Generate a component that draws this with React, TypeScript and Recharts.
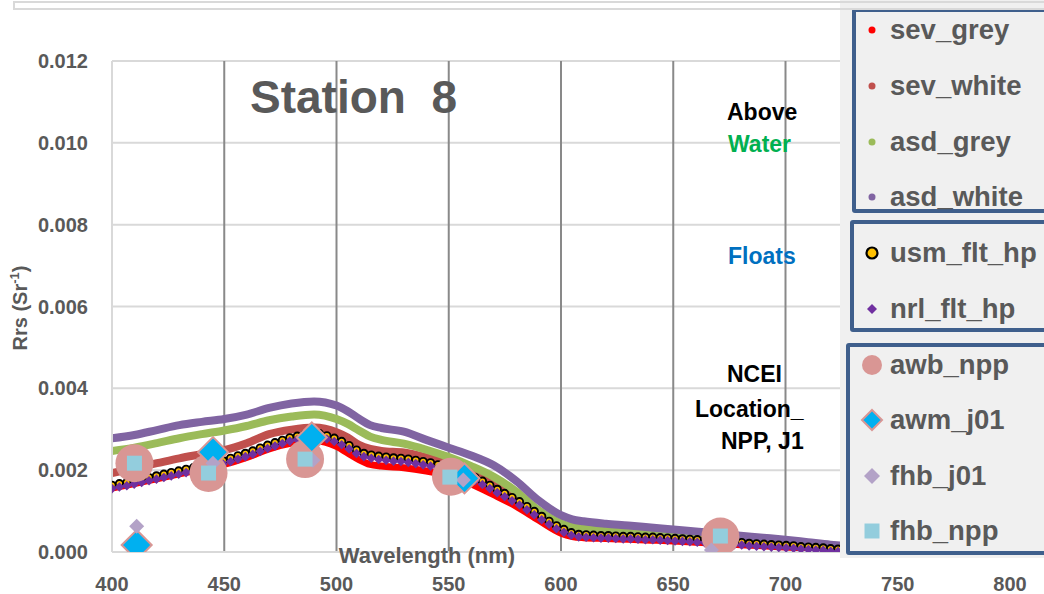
import React from 'react';
import { ComposedChart, Line, XAxis, YAxis, CartesianGrid, Legend } from 'recharts';

const FONT = '"Liberation Sans", Arial, sans-serif';
const GREY_TEXT = '#595959';

const X_TICKS = [400, 450, 500, 550, 600, 650, 700, 750, 800];
const Y_TICKS = [0, 0.002, 0.004, 0.006, 0.008, 0.01, 0.012];

// wavelengths of the smooth above-water spectra
const LINE_WL = [400, 410, 420, 430, 440, 450, 460, 470, 480, 490, 500, 505, 510, 515, 520, 530, 540, 550, 560, 570, 580, 590, 600, 605, 610, 620, 630, 640, 650, 660, 670, 680, 690, 700, 710, 720, 728];

const SEV_GREY = [0.00156, 0.00167, 0.00179, 0.00191, 0.00202, 0.00214, 0.00231, 0.00252, 0.00266, 0.00272, 0.00258, 0.00242, 0.00226, 0.00214, 0.0021, 0.00206, 0.00198, 0.00186, 0.00166, 0.0014, 0.00112, 0.00078, 0.00046, 0.00038, 0.00035, 0.00033, 0.00031, 0.00029, 0.00027, 0.00024, 0.00021, 0.00018, 0.00015, 0.00012, 0.00009, 0.00006, 0.00004];
const SEV_WHITE = [0.00193, 0.00205, 0.00217, 0.00229, 0.00239, 0.00249, 0.00266, 0.00288, 0.00299, 0.00304, 0.00293, 0.0028, 0.00262, 0.00252, 0.00247, 0.00243, 0.00231, 0.00215, 0.00193, 0.00166, 0.00132, 0.00094, 0.00062, 0.00052, 0.00048, 0.00045, 0.00043, 0.00041, 0.00038, 0.00035, 0.00032, 0.00028, 0.00024, 0.0002, 0.00015, 0.0001, 0.00007];
const ASD_GREY = [0.00247, 0.00255, 0.00266, 0.00278, 0.00288, 0.00297, 0.00308, 0.00322, 0.00331, 0.00336, 0.00325, 0.00313, 0.00297, 0.00282, 0.00274, 0.00265, 0.0025, 0.00232, 0.0021, 0.00184, 0.00148, 0.00102, 0.0007, 0.00062, 0.00058, 0.00054, 0.00051, 0.00048, 0.00044, 0.0004, 0.00036, 0.00032, 0.00027, 0.00023, 0.00018, 0.00013, 0.0001];
const ASD_WHITE = [0.00278, 0.00286, 0.00298, 0.0031, 0.00318, 0.00325, 0.00336, 0.00352, 0.00363, 0.00368, 0.00358, 0.00344, 0.00326, 0.0031, 0.00303, 0.00294, 0.00274, 0.00255, 0.00236, 0.00212, 0.00174, 0.00126, 0.0009, 0.0008, 0.00075, 0.00069, 0.00065, 0.0006, 0.00055, 0.0005, 0.00045, 0.0004, 0.00035, 0.0003, 0.00024, 0.00018, 0.00014];

// wavelengths of the hyperspectral float data
const FLT_WL = [
  400.0, 403.3, 406.6, 409.9, 413.2, 416.5, 419.8, 423.1, 426.4, 429.7,
  433.0, 436.3, 439.6, 442.9, 446.2, 449.5, 452.8, 456.1, 459.4, 462.7,
  466.0, 469.3, 472.6, 475.9, 479.2, 482.5, 485.8, 489.1, 492.4, 495.7,
  499.0, 502.3, 505.6, 508.9, 512.2, 515.5, 518.8, 522.1, 525.4, 528.7,
  532.0, 535.3, 538.6, 541.9, 545.2, 548.5, 551.8, 555.1, 558.4, 561.7,
  565.0, 568.3, 571.6, 574.9, 578.2, 581.5, 584.8, 588.1, 591.4, 594.7,
  598.0, 601.3, 604.6, 607.9, 611.2, 614.5, 617.8, 621.1, 624.4, 627.7,
  631.0, 634.3, 637.6, 640.9, 644.2, 647.5, 650.8, 654.1, 657.4, 660.7,
  664.0, 667.3, 670.6, 673.9, 677.2, 680.5, 683.8, 687.1, 690.4, 693.7,
  697.0, 700.3, 703.6, 706.9, 710.2, 713.5, 716.8, 720.1, 723.4, 726.7,
];

const USM_FLT_HP = [
  0.00163, 0.00167, 0.0017, 0.00174, 0.00178, 0.00182, 0.00186, 0.0019, 0.00194, 0.00198,
  0.00202, 0.00206, 0.0021, 0.00214, 0.00219, 0.00223, 0.00229, 0.00235, 0.00241, 0.00247,
  0.00254, 0.00261, 0.00267, 0.00273, 0.00279, 0.00283, 0.00287, 0.0029, 0.00289, 0.00284,
  0.00278, 0.0027, 0.0026, 0.00249, 0.00241, 0.00237, 0.00234, 0.00232, 0.0023, 0.00229,
  0.00227, 0.00224, 0.00221, 0.00218, 0.00213, 0.00208, 0.00203, 0.00196, 0.00189, 0.00182,
  0.00173, 0.00163, 0.00153, 0.00143, 0.00133, 0.00123, 0.00111, 0.00099, 0.00087, 0.00075,
  0.00064, 0.00055, 0.00047, 0.00043, 0.00042, 0.00041, 0.0004, 0.0004, 0.00039, 0.00038,
  0.00038, 0.00037, 0.00036, 0.00036, 0.00035, 0.00034, 0.00033, 0.00032, 0.00031, 0.0003,
  0.00029, 0.00028, 0.00027, 0.00025, 0.00024, 0.00023, 0.00021, 0.0002, 0.00019, 0.00018,
  0.00017, 0.00016, 0.00015, 0.00013, 0.00012, 0.00011, 0.0001, 0.00008, 0.00007, 0.00006,
];

const NRL_FLT_HP = [
  0.00155, 0.00159, 0.00162, 0.00166, 0.0017, 0.00174, 0.00178, 0.00182, 0.00186, 0.0019,
  0.00194, 0.00198, 0.00202, 0.00206, 0.00211, 0.00215, 0.00221, 0.00227, 0.00233, 0.00239,
  0.00246, 0.00253, 0.00259, 0.00265, 0.00271, 0.00275, 0.00279, 0.00282, 0.00281, 0.00276,
  0.0027, 0.00262, 0.00252, 0.00241, 0.00233, 0.00229, 0.00226, 0.00224, 0.00222, 0.00221,
  0.00219, 0.00216, 0.00213, 0.0021, 0.00205, 0.002, 0.00195, 0.00188, 0.00181, 0.00174,
  0.00165, 0.00155, 0.00145, 0.00135, 0.00125, 0.00115, 0.00103, 0.00091, 0.00079, 0.00068,
  0.00057, 0.00048, 0.00041, 0.00037, 0.00036, 0.00035, 0.00034, 0.00034, 0.00033, 0.00032,
  0.00032, 0.00031, 0.0003, 0.0003, 0.00029, 0.00028, 0.00027, 0.00026, 0.00025, 0.00024,
  0.00023, 0.00022, 0.00021, 0.00019, 0.00018, 0.00017, 0.00015, 0.00014, 0.00013, 0.00012,
  0.00011, 0.0001, 0.00009, 0.00007, 0.00006, 0.00005, 0.00004, 0.00002, 0.00001, 0.0,
];

// satellite matchups (NCEI location)
const AWB_NPP_WL = [410, 443, 486, 551, 671];
const AWB_NPP = [0.00217, 0.00193, 0.00227, 0.00184, 0.00038];
const AWM_J01_WL = [411, 445, 489, 557];
const AWM_J01 = [0.00017, 0.00244, 0.0028, 0.0018];
const FHB_J01_WL = [411, 445, 489.5, 556.5, 667];
const FHB_J01 = [0.00063, 0.00217, 0.00224, 0.00176, 0.00005];
const FHB_NPP_WL = [410, 443, 486, 550.5, 671];
const FHB_NPP = [0.00217, 0.00193, 0.00227, 0.00183, 0.00039];

const zip = (xs: number[], vs: number[]) => xs.map((x, i) => ({ x, v: vs[i] }));

const COLORS = {
  sevGrey: '#ff0000',
  sevWhite: '#c0504d',
  asdGrey: '#9bbb59',
  asdWhite: '#8064a2',
  usm: '#ffc000',
  nrl: '#7030a0',
  awb: '#d99694',
  awm: '#00b0f0',
  fhbJ01: '#b3a2c7',
  fhbNpp: '#93cddd',
};

const diamond = (cx: number, cy: number, h: number) =>
  `${cx},${cy - h} ${cx + h},${cy} ${cx},${cy + h} ${cx - h},${cy}`;

const UsmDot = (p: any) => (
  <circle key={`u${p.index}`} cx={p.cx} cy={p.cy} r={3.7} fill={COLORS.usm} stroke="#000" strokeWidth={1.9} />
);
const NrlDot = (p: any) => (
  <polygon key={`n${p.index}`} points={diamond(p.cx, p.cy, 4.8)} fill={COLORS.nrl} />
);
const AwbDot = (p: any) => <circle key={`a${p.index}`} cx={p.cx} cy={p.cy} r={19} fill={COLORS.awb} />;
const AwmDot = (p: any) => (
  <polygon key={`m${p.index}`} points={diamond(p.cx, p.cy, 15)} fill={COLORS.awm} stroke={COLORS.awb} strokeWidth={2} />
);
const FhbJ01Dot = (p: any) => <polygon key={`j${p.index}`} points={diamond(p.cx, p.cy, 7.5)} fill={COLORS.fhbJ01} />;
const FhbNppDot = (p: any) => (
  <rect key={`f${p.index}`} x={p.cx - 7.5} y={p.cy - 7.5} width={15} height={15} fill={COLORS.fhbNpp} />
);

type Item = { name: string; y: number; kind: string; color: string };
const LEGEND_ITEMS: Item[] = [
  { name: 'sev_grey', y: 30, kind: 'dot', color: COLORS.sevGrey },
  { name: 'sev_white', y: 86, kind: 'dot', color: COLORS.sevWhite },
  { name: 'asd_grey', y: 142, kind: 'dot', color: COLORS.asdGrey },
  { name: 'asd_white', y: 197, kind: 'dot', color: COLORS.asdWhite },
  { name: 'usm_flt_hp', y: 253, kind: 'ring', color: COLORS.usm },
  { name: 'nrl_flt_hp', y: 309, kind: 'smalldiamond', color: COLORS.nrl },
  { name: 'awb_npp', y: 365, kind: 'bigcircle', color: COLORS.awb },
  { name: 'awm_j01', y: 420, kind: 'bigdiamond', color: COLORS.awm },
  { name: 'fhb_j01', y: 476, kind: 'middiamond', color: COLORS.fhbJ01 },
  { name: 'fhb_npp', y: 531, kind: 'square', color: COLORS.fhbNpp },
];

const marker = (it: Item) => {
  const c = 14;
  switch (it.kind) {
    case 'dot':
      return <circle cx={c} cy={c} r={3.5} fill={it.color} />;
    case 'ring':
      return <circle cx={c} cy={c} r={5.5} fill={it.color} stroke="#000" strokeWidth={2.2} />;
    case 'smalldiamond':
      return <polygon points={diamond(c, c, 5)} fill={it.color} />;
    case 'bigcircle':
      return <circle cx={c} cy={c} r={10} fill={it.color} />;
    case 'bigdiamond':
      return <polygon points={diamond(c, c, 10)} fill={it.color} stroke={COLORS.awb} strokeWidth={2} />;
    case 'middiamond':
      return <polygon points={diamond(c, c, 8)} fill={it.color} />;
    default:
      return <rect x={c - 7.5} y={c - 7.5} width={15} height={15} fill={it.color} />;
  }
};

const boxStyle = (left: number, top: number, height: number): React.CSSProperties => ({
  position: 'absolute',
  left,
  top,
  width: 230,
  height,
  border: '4px solid #3f5f8c',
  borderRadius: 3,
  boxSizing: 'border-box',
});

const LegendPanel = () => (
  <div style={{ position: 'relative', width: 204, height: 558, background: '#f0f0f0', overflow: 'hidden', fontFamily: FONT }}>
    <div style={boxStyle(12, 8, 205)} />
    <div style={boxStyle(10, 220, 112)} />
    <div style={boxStyle(6, 343, 212)} />
    {LEGEND_ITEMS.map((it) => (
      <div key={it.name} style={{ position: 'absolute', left: 18, top: it.y - 16, height: 32, display: 'flex', alignItems: 'center' }}>
        <svg width={28} height={28} style={{ display: 'block' }}>{marker(it)}</svg>
        <span style={{ marginLeft: 4, fontSize: 27.5, fontWeight: 700, color: GREY_TEXT, lineHeight: '32px', whiteSpace: 'nowrap' }}>{it.name}</span>
      </div>
    ))}
  </div>
);

const tickStyle = { fill: GREY_TEXT, fontSize: 20, fontWeight: 700, fontFamily: FONT };

const pointLine = (key: string, xs: number[], vs: number[], dot: any) => (
  <Line
    key={key}
    data={zip(xs, vs)}
    dataKey="v"
    name={key}
    type="linear"
    stroke="none"
    strokeWidth={0}
    dot={dot}
    activeDot={false}
    legendType="none"
    isAnimationActive={false}
  />
);

export default function App() {
  return (
    <div style={{ position: 'absolute', left: 0, top: 0, width: 1044, height: 594, background: '#fff', fontFamily: FONT, overflow: 'hidden' }}>
      <ComposedChart width={1044} height={594} margin={{ top: 61, right: 34, left: 52, bottom: 12 }}>
        <CartesianGrid horizontal vertical={false} stroke="#d9d9d9" strokeWidth={2} />
        <CartesianGrid horizontal={false} vertical stroke="#898989" strokeWidth={2} />
        <XAxis
          type="number"
          dataKey="x"
          domain={[400, 800]}
          ticks={X_TICKS}
          interval={0}
          allowDataOverflow
          height={30}
          tickLine={false}
          tickSize={23}
          tickMargin={2}
          axisLine={{ stroke: '#d9d9d9', strokeWidth: 2 }}
          tick={tickStyle}
        />
        <YAxis
          type="number"
          dataKey="v"
          domain={[0, 0.012]}
          ticks={Y_TICKS}
          interval={0}
          allowDataOverflow
          width={60}
          tickLine={false}
          tickSize={22}
          tickMargin={2}
          axisLine={{ stroke: '#d9d9d9', strokeWidth: 2 }}
          tick={tickStyle}
          tickFormatter={(v: number) => v.toFixed(3)}
        />
        <Line data={zip(LINE_WL, SEV_GREY)} dataKey="v" name="sev_grey" type="monotone" stroke={COLORS.sevGrey} strokeWidth={7} dot={false} activeDot={false} isAnimationActive={false} />
        <Line data={zip(LINE_WL, SEV_WHITE)} dataKey="v" name="sev_white" type="monotone" stroke={COLORS.sevWhite} strokeWidth={8} dot={false} activeDot={false} isAnimationActive={false} />
        <Line data={zip(LINE_WL, ASD_GREY)} dataKey="v" name="asd_grey" type="monotone" stroke={COLORS.asdGrey} strokeWidth={8} dot={false} activeDot={false} isAnimationActive={false} />
        <Line data={zip(LINE_WL, ASD_WHITE)} dataKey="v" name="asd_white" type="monotone" stroke={COLORS.asdWhite} strokeWidth={8} dot={false} activeDot={false} isAnimationActive={false} />
        {pointLine('usm_flt_hp', FLT_WL, USM_FLT_HP, UsmDot)}
        {pointLine('nrl_flt_hp', FLT_WL, NRL_FLT_HP, NrlDot)}
        {pointLine('awb_npp', AWB_NPP_WL, AWB_NPP, AwbDot)}
        {pointLine('awm_j01', AWM_J01_WL, AWM_J01, AwmDot)}
        {pointLine('fhb_j01', FHB_J01_WL, FHB_J01, FhbJ01Dot)}
        {pointLine('fhb_npp', FHB_NPP_WL, FHB_NPP, FhbNppDot)}
        <Legend
          layout="horizontal"
          verticalAlign="middle"
          align="center"
          content={() => <LegendPanel />}
          wrapperStyle={{ position: 'absolute', left: 840, top: 0, width: 204, height: 558 }}
        />
      </ComposedChart>
      <svg width={1044} height={594} style={{ position: 'absolute', left: 0, top: 0, pointerEvents: 'none' }}>
        <text x={250} y={113} fontSize={46} fontWeight={700} fill={GREY_TEXT} xmlSpace="preserve">{'Station\u00a0 8'}</text>
        <text x={727} y={120} fontSize={23} fontWeight={700} fill="#000">Above</text>
        <text x={728} y={152} fontSize={23} fontWeight={700} fill="#00b050">Water</text>
        <text x={728} y={264} fontSize={23} fontWeight={700} fill="#0070c0">Floats</text>
        <text x={727} y={382} fontSize={23} fontWeight={700} fill="#000">NCEI</text>
        <text x={695} y={417} fontSize={23} fontWeight={700} fill="#000">Location_</text>
        <text x={721} y={449} fontSize={23} fontWeight={700} fill="#000">NPP, J1</text>
        <text x={427} y={563} fontSize={22} fontWeight={700} fill={GREY_TEXT} textAnchor="middle">Wavelength (nm)</text>
        <text transform="translate(27,308) rotate(-90)" fontSize={20} fontWeight={700} fill={GREY_TEXT} textAnchor="middle">
          Rrs (Sr<tspan dy={-8} fontSize={13}>-1</tspan><tspan dy={8}>)</tspan>
        </text>
      </svg>
      <div style={{ position: 'absolute', left: 13, top: 1, width: 1100, height: 9, borderTop: '2px solid #d9d9d9', borderBottom: '2px solid #d9d9d9', borderLeft: '2px solid #d9d9d9', boxSizing: 'border-box', pointerEvents: 'none' }} />
    </div>
  );
}
